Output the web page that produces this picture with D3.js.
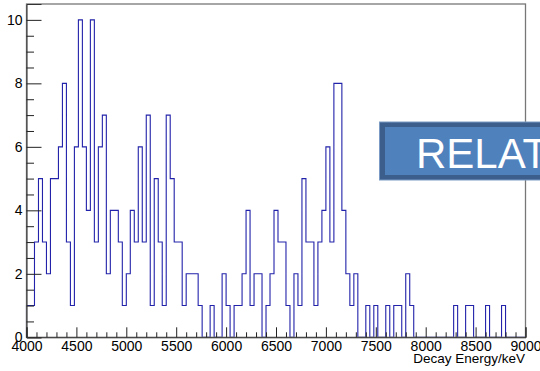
<!DOCTYPE html>
<html>
<head>
<meta charset="utf-8">
<script src="https://cdn.jsdelivr.net/npm/d3@7"></script>
<style>
  body { margin: 0; background: #fff; }
  svg { display: block; font-family: "Liberation Sans", Arial, sans-serif; }
</style>
</head>
<body>
<svg width="540" height="371"></svg>
<script>
// histogram: 40 keV bins from 4000 to 9000 keV
var binStart = 4000, binWidth = 40;
var counts = [
  1, 1, 3, 5, 3, 2, 5, 5, 6, 8,    // 4000-4400
  3, 1, 6, 10, 6, 4, 10, 3, 6, 7,  // 4400-4800
  2, 4, 4, 3, 1, 2, 4, 3, 6, 3,    // 4800-5200
  7, 1, 5, 3, 1, 7, 5, 3, 3, 1,    // 5200-5600
  2, 2, 2, 1, 0, 0, 1, 0, 0, 2,    // 5600-6000
  1, 0, 1, 1, 2, 4, 1, 2, 2, 0,    // 6000-6400
  1, 2, 4, 3, 3, 1, 0, 2, 1, 5,    // 6400-6800
  3, 3, 1, 3, 4, 6, 3, 8, 8, 4,    // 6800-7200
  2, 1, 2, 0, 0, 1, 0, 1, 0, 0,    // 7200-7600
  1, 0, 1, 1, 0, 2, 1, 0, 0, 0,    // 7600-8000
  0, 0, 0, 0, 0, 0, 0, 1, 0, 0,    // 8000-8400
  1, 1, 0, 0, 0, 1, 0, 0, 0, 1,    // 8400-8800
  0, 0, 0, 0, 0                    // 8800-9000
];
var xMajor = [4000, 4500, 5000, 5500, 6000, 6500, 7000, 7500, 8000, 8500, 9000];
var yMajor = [0, 2, 4, 6, 8, 10];
var xTitle = "Decay Energy/keV";
var boxText = "RELATIVE";

var svg = d3.select("svg");

var x = d3.scaleLinear().domain([4000, 9000]).range([26.5, 525.5]);
var y = d3.scaleLinear().domain([0, 10.5]).range([337.3, 4]);

// step outline of the histogram
var pts = [[binStart, 0]];
counts.forEach((c, i) => pts.push([binStart + i * binWidth, c]));
pts.push([binStart + counts.length * binWidth, counts[counts.length - 1]]);
pts.push([binStart + counts.length * binWidth, 0]);

var line = d3.line()
  .x(d => x(d[0]))
  .y(d => y(d[1]))
  .curve(d3.curveStepAfter);

svg.append("path")
  .attr("d", line(pts))
  .attr("fill", "none")
  .attr("stroke", "#2222aa")
  .attr("stroke-width", 1.1);

// frame
svg.append("rect")
  .attr("x", x(4000)).attr("y", y(10.5))
  .attr("width", x(9000) - x(4000))
  .attr("height", y(0) - y(10.5))
  .attr("fill", "none")
  .attr("stroke", "#777")
  .attr("stroke-width", 1.3);

// y axis, ticks inward
var yMinor = d3.range(0, 10.5, 0.5).filter(v => v % 2 !== 0);
var gy = svg.append("g").attr("transform", `translate(${x(4000)},0)`);
gy.call(d3.axisLeft(y).tickValues(yMajor).tickSize(-15).tickPadding(4).tickFormat(d3.format("d")));
gy.append("g").call(d3.axisLeft(y).tickValues(yMinor).tickSize(-7.5).tickFormat(""))
  .select(".domain").remove();

// x axis, ticks upward
var xMinor = d3.range(4000, 9001, 100).filter(v => v % 500 !== 0);
var gx = svg.append("g").attr("transform", `translate(0,${y(0)})`);
gx.call(d3.axisBottom(x).tickValues(xMajor).tickSize(-10).tickPadding(4).tickFormat(d3.format("d")));
gx.append("g").call(d3.axisBottom(x).tickValues(xMinor).tickSize(-5).tickFormat(""))
  .select(".domain").remove();

svg.selectAll(".tick line").attr("stroke", "#222");
svg.selectAll(".domain").attr("stroke", "#333");
svg.selectAll(".tick text")
  .attr("font-family", "Liberation Sans, Arial, sans-serif")
  .attr("font-size", 14)
  .attr("fill", "#000");

svg.append("text")
  .attr("x", 525).attr("y", 363)
  .attr("text-anchor", "end")
  .attr("font-size", 13.5)
  .text(xTitle);

// overlay box partly outside the canvas
svg.append("rect")
  .attr("x", 379.5).attr("y", 122)
  .attr("width", 200).attr("height", 58)
  .attr("fill", "#3b5e8d")
  .attr("stroke", "#7b9ac4")
  .attr("stroke-width", 1);
svg.append("rect")
  .attr("x", 385).attr("y", 127)
  .attr("width", 200).attr("height", 48)
  .attr("fill", "#4f81bd");
svg.append("text")
  .attr("x", 416).attr("y", 168)
  .attr("font-size", 42)
  .attr("fill", "#fff")
  .text(boxText);
</script>
</body>
</html>
